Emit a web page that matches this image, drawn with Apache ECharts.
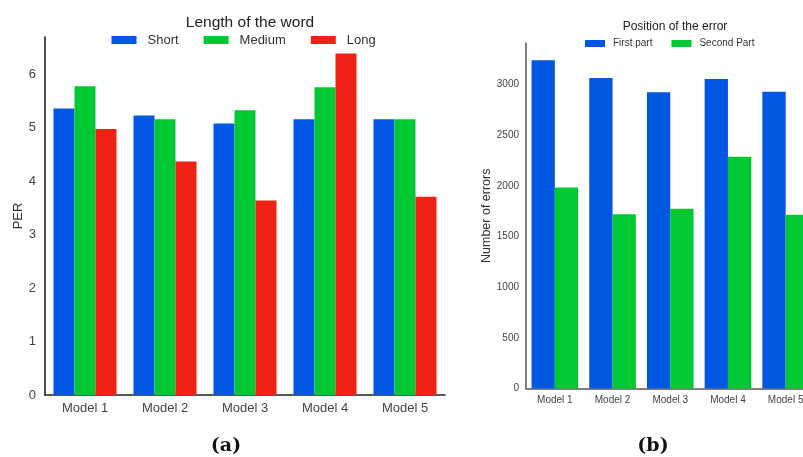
<!DOCTYPE html>
<html><head><meta charset="utf-8">
<script src="https://cdn.jsdelivr.net/npm/echarts@6/dist/echarts.min.js"></script>
<style>html,body{margin:0;padding:0;background:#fff;overflow:hidden;width:803px;height:457px}#c{width:830px;height:457px}</style>
</head><body><div id="c"></div>
<script>
const categories = ['Model 1','Model 2','Model 3','Model 4','Model 5'];
const perShort  = [5.36, 5.23, 5.08, 5.16, 5.16];
const perMedium = [5.78, 5.16, 5.33, 5.76, 5.16];
const perLong   = [4.98, 4.37, 3.64, 6.39, 3.71];
const errFirst  = [3239, 3065, 2923, 3055, 2930];
const errSecond = [1984, 1721, 1773, 2287, 1714];
const perTicks = [0,1,2,3,4,5,6];
const errTicks = [0,500,1000,1500,2000,2500,3000];

const BLUE='#0057e1', GREEN='#00c832', RED='#ee2216';
const FONT='Liberation Sans';
const chart = echarts.init(document.getElementById('c'));
function tickFmt(list){return v => list.includes(v) ? String(v) : '';}
chart.setOption({
  animation:false,
  textStyle:{fontFamily:FONT},
  title:[
    {text:'Length of the word', left:245, top:10, textAlign:'center', textStyle:{fontSize:15.5,fontWeight:'normal',color:'#222',fontFamily:FONT}},
    {text:'Position of the error', left:670, top:16, textAlign:'center', textStyle:{fontSize:12,fontWeight:'normal',color:'#222',fontFamily:FONT}},
    {text:'{p|(}{b|a}{p|)}', left:221, top:432, textAlign:'center', textStyle:{rich:{p:{fontSize:19,fontFamily:'DejaVu Serif',color:'#111'},b:{fontSize:19,fontFamily:'DejaVu Serif',fontWeight:'bold',color:'#111'}}}},
    {text:'{p|(}{b|b}{p|)}', left:648, top:432, textAlign:'center', textStyle:{rich:{p:{fontSize:19,fontFamily:'DejaVu Serif',color:'#111'},b:{fontSize:19,fontFamily:'DejaVu Serif',fontWeight:'bold',color:'#111'}}}}
  ],
  legend:[
    {data:['Short','Medium','Long'], left:106.5, top:28.5, itemWidth:25, itemHeight:8, itemGap:25, icon:'rect',
     textStyle:{fontSize:13,color:'#333',fontFamily:FONT,padding:[0,0,0,6]}},
    {data:['First part','Second Part'], left:580, top:33.5, itemWidth:20, itemHeight:7, itemGap:19, icon:'rect',
     textStyle:{fontSize:10,color:'#333',fontFamily:FONT,padding:[0,0,0,3]}}
  ],
  grid:[
    {left:45, top:37, width:400, height:358},
    {left:526, top:43, width:288.5, height:345.5}
  ],
  xAxis:[
    {type:'category', gridIndex:0, data:categories, axisTick:{show:false},
     axisLine:{lineStyle:{color:'#222',width:1.5}}, axisLabel:{fontSize:13,color:'#444',margin:7}},
    {type:'category', gridIndex:1, data:categories, axisTick:{show:false},
     axisLine:{lineStyle:{color:'#555',width:1.5}}, axisLabel:{fontSize:10,color:'#444',margin:7}}
  ],
  yAxis:[
    {type:'value', gridIndex:0, min:0, max:6.7, interval:1, splitLine:{show:false}, axisTick:{show:false},
     axisLine:{show:true,lineStyle:{color:'#111',width:1.5}},
     axisLabel:{fontSize:13,color:'#444',margin:9,formatter:tickFmt(perTicks)},
     name:'PER', nameLocation:'middle', nameGap:20, nameTextStyle:{fontSize:13,color:'#333'}},
    {type:'value', gridIndex:1, min:0, max:3410, interval:500, splitLine:{show:false}, axisTick:{show:false},
     axisLine:{show:true,lineStyle:{color:'#555',width:1.5}},
     axisLabel:{fontSize:10,color:'#444',margin:7,formatter:tickFmt(errTicks)},
     name:'Number of errors', nameLocation:'middle', nameGap:30, nameTextStyle:{fontSize:12.5,color:'#333'}}
  ],
  series:[
    {name:'Short', type:'bar', xAxisIndex:0, yAxisIndex:0, data:perShort, barWidth:21, barGap:'0%', itemStyle:{color:BLUE}},
    {name:'Medium', type:'bar', xAxisIndex:0, yAxisIndex:0, data:perMedium, barWidth:21, barGap:'0%', itemStyle:{color:GREEN}},
    {name:'Long', type:'bar', xAxisIndex:0, yAxisIndex:0, data:perLong, barWidth:21, barGap:'0%', itemStyle:{color:RED}},
    {name:'First part', type:'bar', xAxisIndex:1, yAxisIndex:1, data:errFirst, barWidth:23.3, barGap:'0%', itemStyle:{color:BLUE}},
    {name:'Second Part', type:'bar', xAxisIndex:1, yAxisIndex:1, data:errSecond, barWidth:23.3, barGap:'0%', itemStyle:{color:GREEN}}
  ]
});
</script></body></html>
